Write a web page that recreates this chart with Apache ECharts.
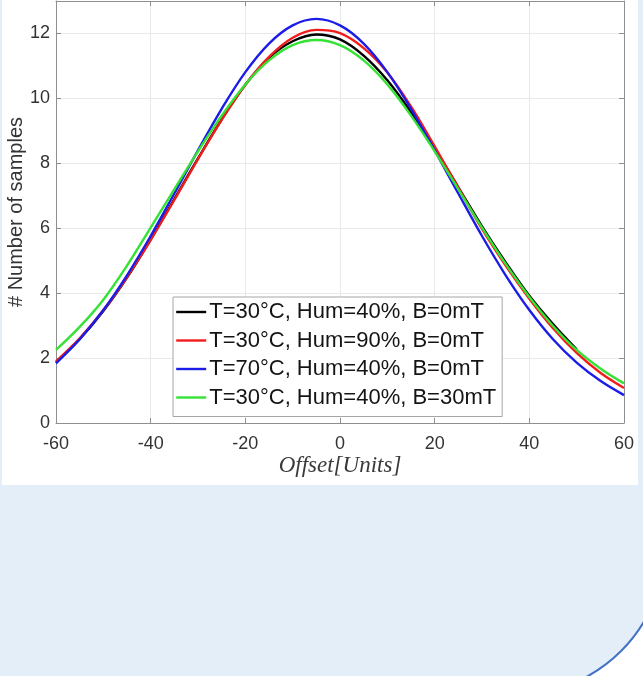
<!DOCTYPE html>
<html><head><meta charset="utf-8">
<script src="https://cdn.jsdelivr.net/npm/echarts@6/dist/echarts.min.js"></script>
<style>html,body{margin:0;padding:0;background:#ffffff;}#c{width:643px;height:676px;}</style>
</head><body><div id="c"></div>
<script>
// Offset values (x) for every sampled point
const offsets = [-60,-55,-50,-45,-40,-35,-30,-25,-20,-15,-10,-5,0,5,10,15,20,25,30,35,40,45,50,55,60];
const seriesNames = [
  'T=30°C, Hum=40%, B=0mT',
  'T=30°C, Hum=90%, B=0mT',
  'T=70°C, Hum=40%, B=0mT',
  'T=30°C, Hum=40%, B=30mT'
];
const seriesColors = ['#000000', '#f21c1c', '#1c1ce8', '#34e234'];
// # Number of samples per offset
const black = [1.86,2.58,3.45,4.48,5.65,6.90,8.15,9.35,10.42,11.25,11.76,11.97,11.82,11.32,10.56,9.58,8.46,7.26,6.06,4.95,3.92,3.05,2.27,null,null];
const red   = [1.90,2.61,3.47,4.49,5.64,6.87,8.13,9.34,10.42,11.28,11.87,12.11,12.01,11.55,10.80,9.75,8.52,7.25,5.98,4.85,3.83,2.92,2.16,1.55,1.08];
const blue  = [1.84,2.58,3.48,4.55,5.76,7.07,8.40,9.68,10.81,11.69,12.25,12.45,12.25,11.69,10.81,9.68,8.40,7.07,5.76,4.55,3.48,2.58,1.86,1.30,0.86];
const green = [2.25,2.96,3.80,4.85,6.02,7.20,8.37,9.47,10.43,11.17,11.64,11.80,11.64,11.17,10.43,9.47,8.37,7.20,6.02,4.90,3.88,2.99,2.25,1.68,1.22];
const xTicks = {min: -60, max: 60, step: 20};
const yTicks = {min: 0, max: 13, step: 2};

const allValues = [black, red, blue, green];
function pairs(vals) {
  const out = [];
  offsets.forEach((x, i) => { if (vals[i] !== null) out.push([x, vals[i]]); });
  return out;
}

const axisGrey = '#8f8f8f';
const labelColor = '#333333';
const sans = 'Liberation Sans, Arial, sans-serif';
const chart = echarts.init(document.getElementById('c'), null, {renderer: 'canvas'});

const option = {
  animation: false,
  graphic: [
    { type: 'rect', z: -20, silent: true,
      shape: {x: -10, y: -10, width: 675, height: 705, r: [0, 0, 150, 0]},
      style: {fill: '#e4eef8', stroke: '#4473c5', lineWidth: 2} },
    { type: 'rect', z: -10, silent: true,
      shape: {x: 2, y: 0, width: 636, height: 485},
      style: {fill: '#ffffff'} }
  ],
  grid: {left: 56, right: 19, top: 1, bottom: 253, containLabel: false, outerBoundsMode: 'none'},
  legend: {
    orient: 'vertical',
    left: 173, top: 297,
    data: seriesNames,
    backgroundColor: '#ffffff',
    borderColor: '#a6a6a6', borderWidth: 1,
    padding: [4, 6, 8, 2],
    itemWidth: 30, itemHeight: 22, itemGap: 6.5,
    itemStyle: {opacity: 0},
    lineStyle: {width: 2.4, opacity: 1},
    textStyle: {fontFamily: sans, fontSize: 22, color: '#141414', padding: [0,0,0,-2], lineHeight: 22},
    selectedMode: false
  },
  xAxis: [
    { type: 'value', min: xTicks.min, max: xTicks.max, interval: xTicks.step, position: 'bottom',
      name: 'Offset[Units]', nameLocation: 'middle', nameGap: 31, nameMoveOverlap: false,
      nameTextStyle: {fontFamily: 'Liberation Serif, Times New Roman, serif', fontStyle: 'italic', fontSize: 23, color: '#3a3a3a'},
      axisLine: {show: true, onZero: false, lineStyle: {color: axisGrey, width: 1}},
      axisTick: {show: true, inside: true, length: 5, lineStyle: {color: axisGrey}},
      axisLabel: {color: labelColor, fontFamily: sans, fontSize: 18, margin: 12},
      splitLine: {show: true, lineStyle: {color: '#e9e9e9', width: 1}} },
    { type: 'value', min: xTicks.min, max: xTicks.max, interval: xTicks.step, position: 'top',
      axisLine: {show: true, onZero: false, lineStyle: {color: axisGrey, width: 1}},
      axisTick: {show: true, inside: true, length: 5, lineStyle: {color: axisGrey}},
      axisLabel: {show: false}, splitLine: {show: false} }
  ],
  yAxis: [
    { type: 'value', min: yTicks.min, max: yTicks.max, interval: yTicks.step, position: 'left',
      name: '# Number of samples', nameLocation: 'middle', nameGap: 30, nameRotate: 90, nameMoveOverlap: false,
      nameTextStyle: {fontFamily: sans, fontSize: 20, color: '#333333'},
      axisLine: {show: true, onZero: false, lineStyle: {color: axisGrey, width: 1}},
      axisTick: {show: true, inside: true, length: 5, lineStyle: {color: axisGrey}},
      axisLabel: {color: labelColor, fontFamily: sans, fontSize: 18, margin: 6, showMaxLabel: false},
      splitLine: {show: true, lineStyle: {color: '#e9e9e9', width: 1}} },
    { type: 'value', min: yTicks.min, max: yTicks.max, interval: yTicks.step, position: 'right',
      axisLine: {show: true, onZero: false, lineStyle: {color: axisGrey, width: 1}},
      axisTick: {show: true, inside: true, length: 5, lineStyle: {color: axisGrey}},
      axisLabel: {show: false}, splitLine: {show: false} }
  ],
  series: seriesNames.map((name, i) => ({
    name: name,
    type: 'line',
    xAxisIndex: 0, yAxisIndex: 0,
    data: pairs(allValues[i]),
    smooth: 0.35,
    symbol: 'none',
    color: seriesColors[i],
    lineStyle: {color: seriesColors[i], width: 2.4},
    z: 3 + i
  }))
};
chart.setOption(option);
</script>
</body></html>
